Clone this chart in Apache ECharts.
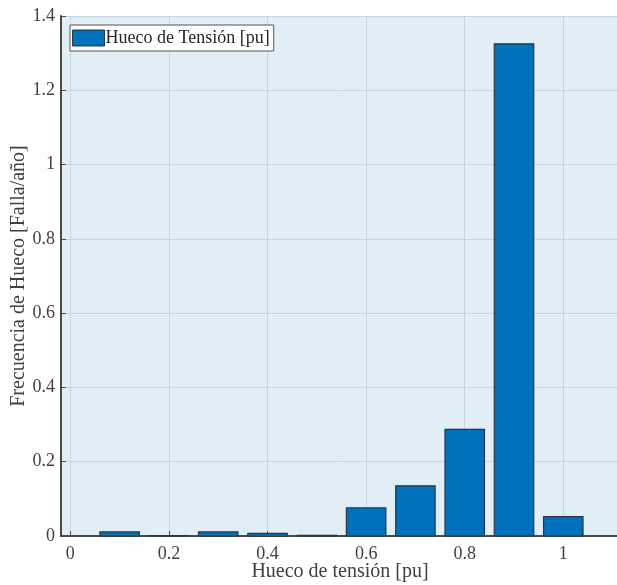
<!DOCTYPE html>
<html>
<head>
<meta charset="utf-8">
<script src="https://cdn.jsdelivr.net/npm/echarts@6/dist/echarts.min.js"></script>
<style>
  html, body { margin: 0; padding: 0; background: #ffffff; }
  #chart { width: 617px; height: 585px; }
</style>
</head>
<body>
<div id="chart"></div>
<script>
// Sag magnitude bins (pu) and yearly frequency of sags in each bin
var sagBins = [0.1, 0.2, 0.3, 0.4, 0.5, 0.6, 0.7, 0.8, 0.9, 1.0];
var sagFrequency = [0.011, 0.001, 0.011, 0.007, 0.002, 0.076, 0.135, 0.287, 1.325, 0.052];

var seriesName = 'Hueco de Tensión [pu]';
var xAxisTitle = 'Hueco de tensión [pu]';
var yAxisTitle = 'Frecuencia de Hueco [Falla/año]';

var serif = '"Liberation Serif", "DejaVu Serif", serif';
var axisColor = '#4a4a4a';
var textColor = '#404040';
var gridColor = '#c9d5dc';
var barColor = '#0072bd';
var barEdge = '#2b3540';
var barSpan = 0.08; // bar width in axis units (80% of the 0.1 bin)

var chart = echarts.init(document.getElementById('chart'), null, { renderer: 'canvas' });

function renderBar(params, api) {
  var x = api.value(0);
  var y = api.value(1);
  var topLeft = api.coord([x - barSpan / 2, y]);
  var bottomRight = api.coord([x + barSpan / 2, 0]);
  return {
    type: 'rect',
    shape: {
      x: topLeft[0],
      y: topLeft[1],
      width: bottomRight[0] - topLeft[0],
      height: bottomRight[1] - topLeft[1]
    },
    style: { fill: barColor, stroke: barEdge, lineWidth: 1.2 }
  };
}

function fmt(v) { return String(Math.round(v * 10) / 10); }

chart.setOption({
  animation: false,
  backgroundColor: '#ffffff',
  textStyle: { fontFamily: serif },
  grid: {
    left: 61, right: -2, top: 16, bottom: 49,
    containLabel: false,
    outerBoundsMode: 'none',
    show: true, backgroundColor: '#e2eef5', borderWidth: 0
  },
  legend: {
    left: 70, top: 25,
    orient: 'vertical',
    padding: [4, 4, 4, 2],
    backgroundColor: '#ffffff',
    borderColor: '#555555',
    borderWidth: 1,
    borderRadius: 0,
    itemWidth: 32, itemHeight: 16,
    icon: 'rect',
    itemStyle: { color: barColor, borderColor: barEdge, borderWidth: 1 },
    textStyle: { fontFamily: serif, fontSize: 18, color: '#262626', padding: [0, 0, 0, -4] },
    data: [seriesName]
  },
  xAxis: {
    type: 'value',
    min: -0.019, max: 1.113,
    splitNumber: 6, minInterval: 0.2, maxInterval: 0.2,
    name: xAxisTitle,
    nameLocation: 'middle',
    nameGap: 26,
    nameMoveOverlap: false,
    nameTextStyle: { fontFamily: serif, fontSize: 20, color: textColor },
    axisLine: { show: true, onZero: false, lineStyle: { color: axisColor, width: 2 } },
    axisTick: { show: true, inside: true, length: 5, lineStyle: { color: axisColor, width: 1 } },
    axisLabel: {
      fontFamily: serif, fontSize: 18, color: textColor, margin: 9,
      showMinLabel: false, showMaxLabel: false,
      formatter: fmt
    },
    splitLine: { show: true, lineStyle: { color: gridColor, width: 1 } }
  },
  yAxis: {
    type: 'value',
    min: 0, max: 1.4, interval: 0.2,
    name: yAxisTitle,
    nameLocation: 'middle',
    nameGap: 32,
    nameMoveOverlap: false,
    nameTextStyle: { fontFamily: serif, fontSize: 20, color: textColor },
    axisLine: { show: true, onZero: false, lineStyle: { color: axisColor, width: 2 } },
    axisTick: { show: true, inside: true, length: 5, lineStyle: { color: axisColor, width: 1 } },
    axisLabel: {
      fontFamily: serif, fontSize: 18, color: textColor, margin: 6,
      formatter: fmt
    },
    splitLine: { show: true, lineStyle: { color: gridColor, width: 1 } }
  },
  series: [{
    name: seriesName,
    type: 'custom',
    renderItem: renderBar,
    itemStyle: { color: barColor, borderColor: barEdge },
    encode: { x: 0, y: 1 },
    data: sagBins.map(function (x, i) { return [x, sagFrequency[i]]; })
  }]
});
</script>
</body>
</html>
